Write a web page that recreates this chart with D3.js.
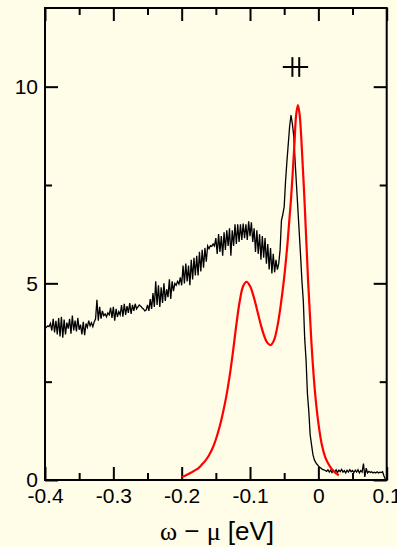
<!DOCTYPE html>
<html>
<head>
<meta charset="utf-8">
<script src="https://cdn.jsdelivr.net/npm/d3@7"></script>
<style>
  body { margin: 0; background: #fffce8; }
  svg { display: block; }
  .tick text { font-family: "Liberation Sans", Arial, sans-serif; font-size: 21px; fill: #000; }
</style>
</head>
<body>
<svg id="chart"></svg>
<script>
// energy grid of the measured spectrum (eV)
var E_START = -0.4, E_STEP = 0.002;
// measured intensity, one value per grid step
var expIntensity = [
  3.85,3.88,3.92,3.90,3.98,3.80,4.10,3.75,4.05,3.70,
  4.12,3.65,4.15,3.62,4.08,3.70,4.00,3.85,4.10,3.72,
  4.18,3.80,4.05,3.78,4.12,3.82,3.95,3.70,4.02,3.68,
  3.98,3.88,4.05,3.92,4.00,3.90,4.02,4.10,4.58,4.05,
  4.40,4.10,4.30,4.18,4.22,4.15,4.25,4.20,4.38,4.12,
  4.40,4.05,4.35,4.15,4.28,4.20,4.45,4.15,4.48,4.20,
  4.42,4.25,4.50,4.22,4.45,4.30,4.48,4.35,4.40,4.45,
  4.42,4.38,4.35,4.30,4.32,4.45,4.30,4.60,4.35,4.75,
  4.40,5.05,4.45,4.95,4.40,4.90,4.50,5.00,4.55,4.85,
  4.65,5.10,4.60,5.05,4.80,5.00,4.95,5.05,4.98,5.15,
  4.95,5.45,5.00,5.50,5.05,5.45,4.95,5.60,5.10,5.65,
  5.20,5.70,5.20,5.80,5.30,5.85,5.40,5.90,5.55,5.95,
  5.88,5.96,5.94,6.00,5.95,6.15,5.75,6.25,5.80,6.20,
  5.70,6.30,5.85,6.35,5.95,6.40,5.70,6.35,5.95,6.50,
  6.00,6.50,6.05,6.50,6.10,6.52,6.15,6.50,6.10,6.58,
  6.20,6.55,6.05,6.40,5.80,6.35,5.75,6.25,5.60,6.20,
  5.65,6.15,5.50,6.00,5.35,5.90,5.25,5.75,5.28,5.60,
  5.35,5.50,5.85,6.60,6.75,6.95,7.60,8.10,8.55,9.00,
  9.28,9.05,8.75,8.10,7.50,6.90,6.30,5.70,5.05,4.55,
  3.60,3.05,2.20,1.75,1.15,0.90,0.65,0.52,0.45,0.40,
  0.36,0.32,0.30,0.27,0.26,0.24,0.22,0.26,0.20,0.25,
  0.19,0.24,0.20,0.26,0.19,0.25,0.21,0.27,0.20,0.24,
  0.18,0.25,0.20,0.26,0.21,0.24,0.19,0.25,0.20,0.26,
  0.18,0.24,0.20,0.42,0.08,0.30,0.18,0.22,0.19,0.21,
  0.18,0.20,0.18,0.21,0.18,0.20,0.19,0.21,0.10,0.02,
  0.02
];
// calculated spectrum (red)
var calcE = [-0.200,-0.195,-0.190,-0.185,-0.180,-0.175,-0.170,-0.165,-0.160,-0.155,
             -0.150,-0.145,-0.140,-0.135,-0.130,-0.125,-0.120,-0.115,-0.110,-0.105,
             -0.100,-0.095,-0.090,-0.085,-0.080,-0.075,-0.070,-0.065,-0.060,-0.055,
             -0.050,-0.045,-0.040,-0.035,-0.0325,-0.030,-0.0275,-0.025,-0.020,-0.015,
             -0.010,-0.005,0.000,0.005,0.010,0.015,0.020,0.025,0.030];
var calcI = [0.08,0.11,0.15,0.20,0.25,0.31,0.40,0.50,0.63,0.80,
             1.03,1.32,1.68,2.10,2.62,3.25,3.95,4.55,4.93,5.04,
             4.93,4.68,4.35,4.00,3.70,3.50,3.43,3.55,3.90,4.45,
             5.15,6.05,7.15,8.55,9.28,9.53,9.30,8.70,7.00,5.05,
             3.45,2.25,1.45,0.90,0.58,0.40,0.27,0.18,0.12];
// peak position marker with error bars
var markerE = [-0.038, -0.028];
var markerI = 10.5;
var markerERange = [-0.052, -0.015];
var markerIErr = 0.25;

var xTicks = [-0.4, -0.3, -0.2, -0.1, 0, 0.1];
var xTickLabels = ["-0.4", "-0.3", "-0.2", "-0.1", "0", "0.1"];
var xMinor = [-0.35, -0.25, -0.15, -0.05, 0.05];
var yTicks = [0, 5, 10];
var yMinor = [2.5, 7.5];

var W = 397, H = 547;
var margin = { top: 8, right: 10.3, bottom: 67, left: 45 };
var width = W - margin.left - margin.right,
    height = H - margin.top - margin.bottom;

var svg = d3.select("#chart").attr("width", W).attr("height", H)
  .append("g")
  .attr("transform", "translate(" + margin.left + "," + margin.top + ")");

var x = d3.scaleLinear().domain([-0.4, 0.1]).range([0, width]);
var y = d3.scaleLinear().domain([0, 12]).range([height, 0]);

function styleAxis(g) {
  g.select(".domain").remove();
  g.selectAll(".tick line").attr("stroke", "#000").attr("stroke-width", 2);
}

// major ticks (inward) with labels
svg.append("g").attr("transform", "translate(0," + height + ")")
  .call(d3.axisBottom(x).tickValues(xTicks).tickSize(-13).tickPadding(8)
    .tickFormat(function (d, i) { return xTickLabels[i]; }))
  .call(styleAxis);
svg.append("g")
  .call(d3.axisTop(x).tickValues(xTicks).tickSize(-13).tickFormat(""))
  .call(styleAxis);
svg.append("g")
  .call(d3.axisLeft(y).tickValues(yTicks).tickSize(-13).tickPadding(7)
    .tickFormat(d3.format("d")))
  .call(styleAxis);
svg.append("g").attr("transform", "translate(" + width + ",0)")
  .call(d3.axisRight(y).tickValues(yTicks).tickSize(-13).tickFormat(""))
  .call(styleAxis);

// minor ticks
svg.append("g").attr("transform", "translate(0," + height + ")")
  .call(d3.axisBottom(x).tickValues(xMinor).tickSize(-7).tickFormat(""))
  .call(styleAxis);
svg.append("g")
  .call(d3.axisTop(x).tickValues(xMinor).tickSize(-7).tickFormat(""))
  .call(styleAxis);
svg.append("g")
  .call(d3.axisLeft(y).tickValues(yMinor).tickSize(-7).tickFormat(""))
  .call(styleAxis);
svg.append("g").attr("transform", "translate(" + width + ",0)")
  .call(d3.axisRight(y).tickValues(yMinor).tickSize(-7).tickFormat(""))
  .call(styleAxis);

// frame
svg.append("rect")
  .attr("x", 0).attr("y", 0)
  .attr("width", width).attr("height", height)
  .attr("fill", "none").attr("stroke", "#000").attr("stroke-width", 2);

// measured spectrum
var expLine = d3.line()
  .x(function (d, i) { return x(E_START + i * E_STEP); })
  .y(function (d) { return y(d); });
svg.append("path")
  .datum(expIntensity)
  .attr("d", expLine)
  .attr("fill", "none")
  .attr("stroke", "#000")
  .attr("stroke-width", 1.3)
  .attr("stroke-linejoin", "miter");

// calculated spectrum
var calcLine = d3.line()
  .x(function (d, i) { return x(calcE[i]); })
  .y(function (d) { return y(d); })
  .curve(d3.curveCatmullRom.alpha(0.5));
svg.append("path")
  .datum(calcI)
  .attr("d", calcLine)
  .attr("fill", "none")
  .attr("stroke", "#ff0000")
  .attr("stroke-width", 2.2);

// marker
svg.append("line")
  .attr("x1", x(markerERange[0])).attr("x2", x(markerERange[1]))
  .attr("y1", y(markerI)).attr("y2", y(markerI))
  .attr("stroke", "#000").attr("stroke-width", 2);
svg.selectAll(".mk")
  .data(markerE)
  .enter().append("line")
  .attr("class", "mk")
  .attr("x1", function (d) { return x(d); }).attr("x2", function (d) { return x(d); })
  .attr("y1", y(markerI + markerIErr)).attr("y2", y(markerI - markerIErr))
  .attr("stroke", "#000").attr("stroke-width", 2);

// axis title
var title = svg.append("text")
  .attr("x", x(-0.1) - 33)
  .attr("y", height + 60)
  .attr("text-anchor", "middle")
  .attr("font-family", "'Liberation Sans', Arial, sans-serif")
  .attr("font-size", "26px");
title.append("tspan").attr("font-family", "'Liberation Serif', serif").text("ω");
title.append("tspan").text(" − ");
title.append("tspan").attr("font-family", "'Liberation Serif', serif").text("μ");
title.append("tspan").text(" [eV]");
</script>
</body>
</html>
